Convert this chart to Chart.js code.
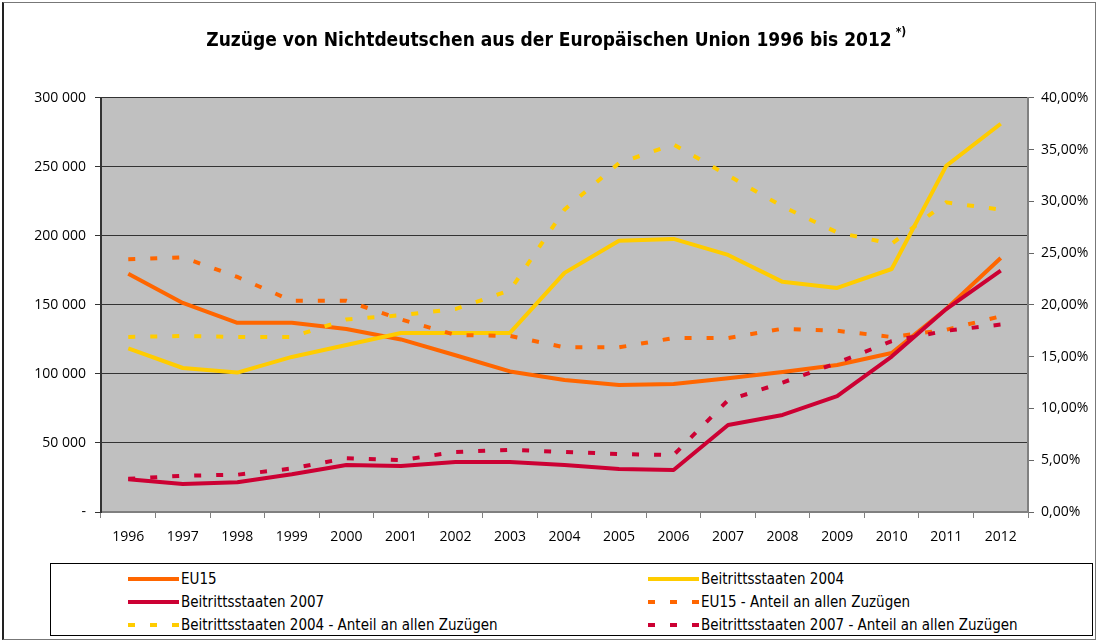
<!DOCTYPE html>
<html lang="de">
<head>
<meta charset="utf-8">
<title>Zuzüge von Nichtdeutschen aus der Europäischen Union 1996 bis 2012</title>
<script src="https://cdn.jsdelivr.net/npm/chart.js@4.4.1/dist/chart.umd.min.js"></script>
<style>
    html, body { margin: 0; padding: 0; background: #fff; }
    #wrap { position: relative; width: 1098px; height: 642px; overflow: hidden; }
    #frame {
        position: absolute; left: 2px; top: 2px; width: 1091px; height: 636px;
        border: 1px solid #777; border-left: 2px solid #222; pointer-events: none;
    }
    #chart { position: absolute; left: 0; top: 0; }
    #legend {
        position: absolute; left: 50px; top: 563px; width: 1041px; height: 71px;
        border: 1px solid #000; background: #fff;
        font-family: "DejaVu Sans Condensed", sans-serif;
        font-size: 15px; color: #000;
    }
    .item { position: absolute; height: 20px; display: flex; align-items: center; white-space: nowrap; }
    .swatch { width: 51px; height: 4px; margin-right: 2px; }
</style>
</head>
<body>
<div id="wrap">
    <canvas id="chart" width="1098" height="642"></canvas>
    <div id="legend"></div>
    <div id="frame"></div>
</div>
<script>
// --- data ---
const years = ['1996', '1997', '1998', '1999', '2000', '2001', '2002', '2003', '2004',
               '2005', '2006', '2007', '2008', '2009', '2010', '2011', '2012'];

// absolute arrivals (left axis)
const eu15 =  [172500, 151400, 137000, 137000, 132600, 125000, 113500, 101800, 95600,
               92000, 92700, 96800, 101400, 106500, 115200, 147000, 184000];
const b2004 = [118500, 104300, 101000, 112300, 121000, 129700, 129700, 129700, 173200,
               196400, 197800, 186200, 166700, 162300, 176000, 250700, 281200];
const b2007 = [23800, 20300, 21500, 27300, 34000, 33300, 36200, 36200, 34000,
               31200, 30400, 63000, 70300, 84000, 112600, 147000, 174800];

// share of all arrivals in percent (right axis)
const eu15Share =  [24.4, 24.6, 22.7, 20.4, 20.4, 18.6, 17.1, 17.0, 15.9,
                    15.9, 16.8, 16.8, 17.7, 17.5, 16.9, 17.6, 18.9];
const b2004Share = [16.9, 17.0, 16.9, 16.9, 18.6, 19.0, 19.6, 21.4, 29.2,
                    33.7, 35.5, 32.5, 29.5, 27.0, 25.9, 29.9, 29.2];
const b2007Share = [3.2, 3.5, 3.6, 4.2, 5.2, 5.0, 5.8, 6.0, 5.8,
                    5.6, 5.5, 10.8, 12.5, 14.4, 16.5, 17.5, 18.1];

const leftTicks = { min: 0, max: 300000, step: 50000 };
const rightTicks = { min: 0, max: 40, step: 5 };

const ORANGE = '#FF6600';
const YELLOW = '#FFCC00';
const RED = '#CC0033';
const DASH = [7, 15];

const series = [
    { label: 'EU15', data: eu15, color: ORANGE, axis: 'y', dashed: false },
    { label: 'Beitrittsstaaten 2004', data: b2004, color: YELLOW, axis: 'y', dashed: false },
    { label: 'Beitrittsstaaten 2007', data: b2007, color: RED, axis: 'y', dashed: false },
    { label: 'EU15 - Anteil an allen Zuzügen', data: eu15Share, color: ORANGE, axis: 'y1', dashed: true },
    { label: 'Beitrittsstaaten 2004 - Anteil an allen Zuzügen', data: b2004Share, color: YELLOW, axis: 'y1', dashed: true },
    { label: 'Beitrittsstaaten 2007 - Anteil an allen Zuzügen', data: b2007Share, color: RED, axis: 'y1', dashed: true },
];

const TITLE = 'Zuzüge von Nichtdeutschen aus der Europäischen Union 1996 bis 2012';
const TITLE_FONT = { family: '"DejaVu Sans Condensed", sans-serif', size: 19, weight: 'bold' };
const TITLE_PAD = { top: 30, bottom: 45 };

// grey plot background
const plotBackground = {
    id: 'plotBackground',
    beforeDraw(chart) {
        const a = chart.chartArea;
        const ctx = chart.ctx;
        ctx.save();
        ctx.fillStyle = '#C0C0C0';
        ctx.fillRect(a.left, a.top, a.right - a.left, a.bottom - a.top);
        ctx.restore();
    }
};

// the raised "*)" after the title
const titleMark = {
    id: 'titleMark',
    afterDraw(chart) {
        const tb = chart.titleBlock;
        if (!tb) return;
        const ctx = chart.ctx;
        const font = Chart.helpers.toFont(TITLE_FONT);
        ctx.save();
        ctx.font = font.string;
        const w = ctx.measureText(TITLE).width;
        const cx = (tb.left + tb.right) / 2;
        const mid = tb.top + TITLE_PAD.top + font.lineHeight / 2;
        ctx.font = 'bold 12px ' + TITLE_FONT.family;
        ctx.fillStyle = '#000';
        ctx.textAlign = 'left';
        ctx.textBaseline = 'middle';
        ctx.fillText('*)', cx + w / 2 + 4, mid - 9);
        ctx.restore();
    }
};

const formatThousands = (v) => v === 0 ? '-' : String(v).replace(/\B(?=(\d{3})+(?!\d))/g, ' ');
const formatPercent = (v) => v.toFixed(2).replace('.', ',') + '%';

Chart.defaults.font.family = '"Open Sans", "DejaVu Sans", sans-serif';
Chart.defaults.font.size = 14;
Chart.defaults.color = '#000';

const chart = new Chart(document.getElementById('chart'), {
    type: 'line',
    data: {
        labels: years,
        datasets: series.map((s, i) => ({
            label: s.label,
            data: s.data,
            yAxisID: s.axis,
            borderColor: s.color,
            backgroundColor: s.color,
            borderWidth: 4,
            borderDash: s.dashed ? DASH : [],
            borderCapStyle: 'butt',
            borderJoinStyle: s.dashed ? 'miter' : 'round',
            pointRadius: 0,
            pointHoverRadius: 0,
            tension: 0,
            fill: false,
            order: series.length - i
        }))
    },
    options: {
        responsive: false,
        animation: false,
        devicePixelRatio: 1,
        layout: { padding: { left: 0, right: 0, top: 0, bottom: 80 } },
        plugins: {
            legend: { display: false },
            tooltip: { enabled: false },
            title: {
                display: true,
                text: TITLE,
                font: TITLE_FONT,
                color: '#000',
                padding: TITLE_PAD
            }
        },
        scales: {
            x: {
                offset: true,
                grid: { offset: true, drawOnChartArea: false, drawTicks: true, tickLength: 6, color: '#808080' },
                border: { color: '#808080', width: 2 },
                ticks: { padding: 11, autoSkip: false, maxRotation: 0 },
                afterFit: (s) => { s.height = 50; }
            },
            y: {
                position: 'left',
                min: leftTicks.min,
                max: leftTicks.max,
                grid: { color: '#333', lineWidth: 1, tickLength: 6, tickColor: '#333' },
                border: { color: '#333', width: 2 },
                ticks: { stepSize: leftTicks.step, padding: 9, callback: formatThousands },
                afterFit: (s) => { s.width = 101; }
            },
            y1: {
                position: 'right',
                min: rightTicks.min,
                max: rightTicks.max,
                grid: { drawOnChartArea: false, tickLength: 6, color: '#666' },
                border: { color: '#808080', width: 2 },
                ticks: { stepSize: rightTicks.step, padding: 7, callback: formatPercent },
                afterFit: (s) => { s.width = 70; }
            }
        }
    },
    plugins: [plotBackground, titleMark]
});

// legend in two columns, built from the chart's datasets
const legend = document.getElementById('legend');
const colLeft = [77, 597];
const rowTop = [5, 28, 51];
chart.data.datasets.forEach((ds, i) => {
    const item = document.createElement('div');
    item.className = 'item';
    item.style.left = colLeft[i % 2] + 'px';
    item.style.top = rowTop[Math.floor(i / 2)] + 'px';
    const sw = document.createElement('span');
    sw.className = 'swatch';
    if (ds.borderDash.length) {
        sw.style.background = 'repeating-linear-gradient(90deg, ' + ds.borderColor + ' 0 7px, transparent 7px 22px)';
    } else {
        sw.style.background = ds.borderColor;
    }
    const txt = document.createElement('span');
    txt.textContent = ds.label;
    item.append(sw, txt);
    legend.appendChild(item);
});
</script>
</body>
</html>
